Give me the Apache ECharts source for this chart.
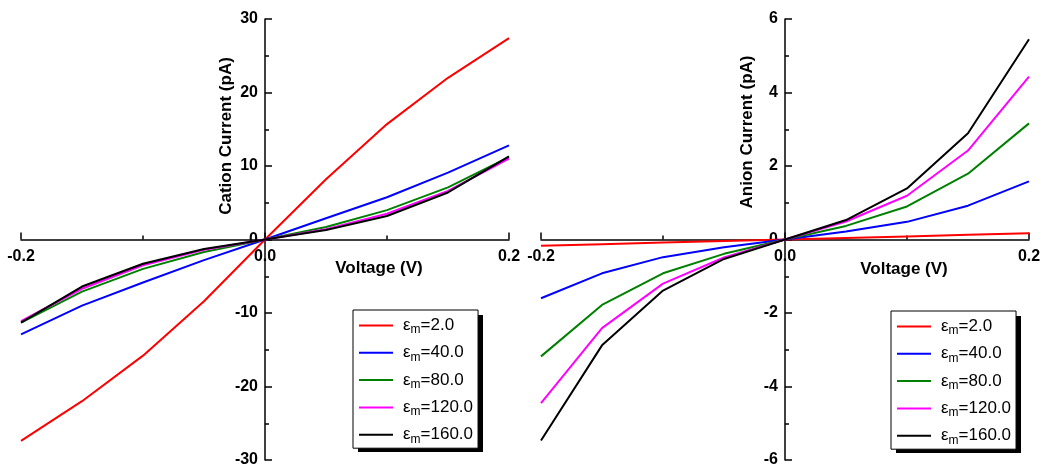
<!DOCTYPE html>
<html>
<head>
<meta charset="utf-8">
<script src="https://cdn.jsdelivr.net/npm/echarts@6/dist/echarts.min.js"></script>
<style>html,body{margin:0;padding:0;background:#fff;}#c{width:1043px;height:466px;}</style>
</head>
<body>
<div id="c"></div>
<script>
var voltage = [-0.2, -0.15, -0.1, -0.05, 0, 0.05, 0.1, 0.15, 0.2];
var epsLabels = ['2.0', '40.0', '80.0', '120.0', '160.0'];
var colors = ['#ff0000', '#0000ff', '#008000', '#ff00ff', '#000000'];

var cation2   = [-27.4, -22.0, -15.8, -8.4, 0, 8.2, 15.7, 22.0, 27.4];
var cation40  = [-12.9, -9.0, -5.85, -2.8, 0, 2.9, 5.75, 9.1, 12.8];
var cation80  = [-11.3, -7.1, -4.0, -1.7, 0, 1.7, 4.0, 7.1, 11.2];
var cation120 = [-11.1, -6.7, -3.5, -1.4, 0, 1.4, 3.5, 6.6, 11.0];
var cation160 = [-11.3, -6.4, -3.3, -1.3, 0, 1.3, 3.2, 6.4, 11.3];

var anion2   = [-0.17, -0.13, -0.085, -0.04, 0, 0.04, 0.085, 0.13, 0.17];
var anion40  = [-1.6, -0.92, -0.48, -0.21, 0, 0.22, 0.48, 0.92, 1.58];
var anion80  = [-3.18, -1.78, -0.92, -0.39, 0, 0.37, 0.9, 1.79, 3.16];
var anion120 = [-4.45, -2.41, -1.2, -0.49, 0, 0.49, 1.19, 2.42, 4.43];
var anion160 = [-5.47, -2.88, -1.39, -0.53, 0, 0.53, 1.39, 2.89, 5.45];

var xTicks = [-0.2, 0.0, 0.2];
var cationTicks = [-30, -20, -10, 0, 10, 20, 30];
var anionTicks = [-6, -4, -2, 0, 2, 4, 6];

var cationSets = [cation2, cation40, cation80, cation120, cation160];
var anionSets = [anion2, anion40, anion80, anion120, anion160];

var FONT = '"Liberation Sans", Arial, sans-serif';
var GRID_W = 488, GRID_H = 441;

function pairs(vals) { return voltage.map(function (v, i) { return [v, vals[i]]; }); }
function names() { return epsLabels.map(function (e) { return 'εm=' + e; }); }

function xAxisCfg(idx) {
  return {
    type: 'value', gridIndex: idx, min: xTicks[0], max: xTicks[xTicks.length - 1],
    interval: xTicks[1] - xTicks[0],
    position: 'bottom', offset: -GRID_H / 2,
    axisLine: { onZero: false, lineStyle: { color: '#000', width: 1.5 } },
    axisTick: { show: true, inside: true, length: 7, lineStyle: { color: '#000', width: 1.5 } },
    minorTick: { show: true, splitNumber: 2, length: 4, lineStyle: { color: '#000', width: 1.5 } },
    splitLine: { show: false },
    axisLabel: {
      color: '#000', fontWeight: 'bold', fontSize: 16, fontFamily: FONT, margin: 9,
      formatter: function (v) { var s = v.toFixed(1); return s === '-0.0' ? '0.0' : s; }
    }
  };
}
function yAxisCfg(idx, ticks) {
  return {
    type: 'value', gridIndex: idx, min: ticks[0], max: ticks[ticks.length - 1],
    interval: ticks[1] - ticks[0],
    position: 'left', offset: -GRID_W / 2,
    axisLine: { onZero: false, lineStyle: { color: '#000', width: 1.5 } },
    axisTick: { show: true, inside: true, length: 7, lineStyle: { color: '#000', width: 1.5 } },
    minorTick: { show: true, splitNumber: 2, length: 4, lineStyle: { color: '#000', width: 1.5 } },
    splitLine: { show: false },
    axisLabel: { color: '#000', fontWeight: 'bold', fontSize: 16, fontFamily: FONT, margin: 7 }
  };
}

var series = [];
[cationSets, anionSets].forEach(function (sets, gi) {
  sets.forEach(function (vals, i) {
    series.push({
      type: 'line', name: names()[i], xAxisIndex: gi, yAxisIndex: gi,
      data: pairs(vals), showSymbol: false, symbol: 'none',
      lineStyle: { color: colors[i], width: 2 }, itemStyle: { color: colors[i] },
      animation: false
    });
  });
});

function legendCfg(left, top) {
  return {
    orient: 'vertical', left: left, top: top, data: names(),
    icon: 'rect', itemWidth: 34, itemHeight: 2, itemGap: 8.3,
    padding: [7, 5, 3, 6],
    backgroundColor: '#fff', borderColor: '#000', borderWidth: 1,
    formatter: function (n) { return '{e|ε}{s|m}{e|' + n.slice(2) + '}'; },
    textStyle: {
      color: '#000', fontFamily: FONT, fontSize: 17, padding: [0, 0, 0, 5],
      rich: {
        e: { fontSize: 17, fontFamily: FONT, color: '#000' },
        s: { fontSize: 12, fontFamily: FONT, color: '#000', padding: [9, 0, 0, 0] }
      }
    },
    selectedMode: false
  };
}

function vText(x, y, t) {
  return { type: 'text', x: x, y: y, rotation: Math.PI / 2,
    style: { text: t, fill: '#000', font: 'bold 17px ' + FONT, align: 'center', verticalAlign: 'middle' } };
}
function hText(x, y, t) {
  return { type: 'text', x: x, y: y,
    style: { text: t, fill: '#000', font: 'bold 17px ' + FONT, align: 'center', verticalAlign: 'middle' } };
}
function shadowRect(x, y) {
  return { type: 'rect', z: 1, shape: { x: x + 5, y: y + 5, width: 125, height: 137 }, style: { fill: '#000' } };
}

var chart = echarts.init(document.getElementById('c'), null, { renderer: 'canvas' });
chart.setOption({
  animation: false,
  backgroundColor: '#fff',
  grid: [
    { left: 21, top: 19, width: GRID_W, height: GRID_H, containLabel: false, outerBoundsMode: 'none' },
    { left: 541, top: 19, width: GRID_W, height: GRID_H, containLabel: false, outerBoundsMode: 'none' }
  ],
  xAxis: [xAxisCfg(0), xAxisCfg(1)],
  yAxis: [yAxisCfg(0, cationTicks), yAxisCfg(1, anionTicks)],
  legend: [legendCfg(353, 310), legendCfg(891, 311)],
  series: series,
  graphic: [
    vText(226, 136, 'Cation Current (pA)'),
    hText(379, 268, 'Voltage (V)'),
    vText(747, 132, 'Anion Current (pA)'),
    hText(904, 269, 'Voltage (V)'),
    shadowRect(353, 310),
    shadowRect(891, 311)
  ]
});
</script>
</body>
</html>
